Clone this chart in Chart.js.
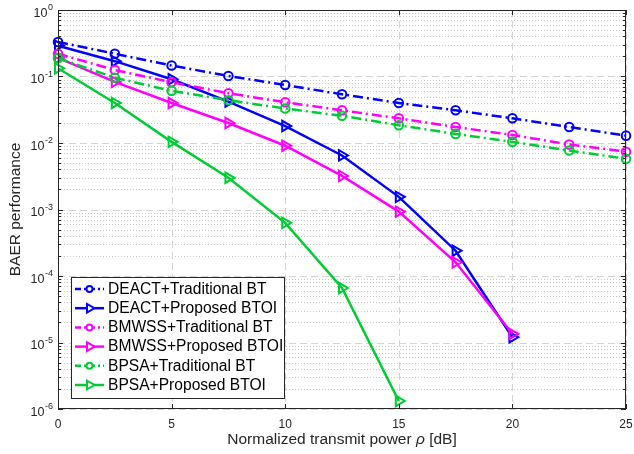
<!DOCTYPE html>
<html>
<head>
<meta charset="utf-8">
<script src="https://cdn.jsdelivr.net/npm/chart.js@4.4.0/dist/chart.umd.min.js"></script>
<style>
  body { margin: 0; background: #fff; }
  canvas { display: block; }
</style>
</head>
<body>
<canvas id="myChart" width="634" height="454"></canvas>
<script>
// transmit power steps (dB)
const powers = [0, 2.5, 5, 7.5, 10, 12.5, 15, 17.5, 20, 22.5, 25];

// BAER per scheme
const deactTraditional = [0.33, 0.22, 0.146, 0.102, 0.0745, 0.054, 0.040, 0.031, 0.0235, 0.0174, 0.0129];
const deactProposed    = [0.29, 0.17, 0.091, 0.042, 0.018, 0.0065, 0.00155, 0.00024, 0.000012];
const bmwssTraditional = [0.22, 0.125, 0.082, 0.056, 0.041, 0.031, 0.0235, 0.0174, 0.0132, 0.0095, 0.0074];
const bmwssProposed    = [0.19, 0.083, 0.040, 0.020, 0.0091, 0.0032, 0.00093, 0.000161, 0.0000135];
const bpsaTraditional  = [0.188, 0.096, 0.061, 0.044, 0.033, 0.0257, 0.0185, 0.0137, 0.0104, 0.0077, 0.0058];
const bpsaProposed     = [0.133, 0.040, 0.0104, 0.0030, 0.00063, 0.000066, 0.00000132];

const legendLabels = [
    'DEACT+Traditional BT',
    'DEACT+Proposed BTOI',
    'BMWSS+Traditional BT',
    'BMWSS+Proposed BTOI',
    'BPSA+Traditional BT',
    'BPSA+Proposed BTOI'
];
const xTicks = [0, 5, 10, 15, 20, 25];
const yTicks = [1e-6, 1e-5, 1e-4, 1e-3, 1e-2, 1e-1, 1];
const xTitle = 'Normalized transmit power ';
const yTitle = 'BAER performance';

const BLUE = '#0000ff', MAGENTA = '#ff00ff', GREEN = '#00cc33';
const INK = '#262626';
const FONT = '"Liberation Sans", Arial, Helvetica, sans-serif';
const DASHDOT = [10, 4, 2, 4];

function toPoints(values) {
    return values.map((v, i) => ({ x: powers[i], y: v }));
}

function series(label, values, color, traditional, idx) {
    return {
        label: label,
        data: toPoints(values),
        borderColor: color,
        backgroundColor: 'transparent',
        borderWidth: 2.5,
        borderDash: traditional ? DASHDOT : [],
        pointStyle: traditional ? 'circle' : 'triangle',
        pointRotation: traditional ? 0 : 90,
        pointRadius: traditional ? 4.3 : 6,
        pointBorderWidth: 2,
        pointBackgroundColor: 'transparent',
        pointBorderColor: color,
        tension: 0,
        clip: false,
        order: -idx
    };
}

const matlabAxes = {
    id: 'matlabAxes',
    beforeDatasetsDraw(chart) {
        const ctx = chart.ctx, a = chart.chartArea;
        const xs = chart.scales.x, ys = chart.scales.y;
        ctx.save();
        ctx.lineWidth = 1;
        // minor y grid (dotted)
        ctx.strokeStyle = '#c8c8c8';
        ctx.setLineDash([1, 2]);
        for (let e = -6; e < 0; e++) {
            for (let m = 2; m <= 9; m++) {
                const y = Math.round(ys.getPixelForValue(m * Math.pow(10, e))) + 0.5;
                ctx.beginPath(); ctx.moveTo(a.left, y); ctx.lineTo(a.right, y); ctx.stroke();
            }
        }
        // major grid (dashed)
        ctx.strokeStyle = '#d4d4d4';
        ctx.setLineDash([7, 4]);
        yTicks.forEach(v => {
            const y = Math.round(ys.getPixelForValue(v)) + 0.5;
            ctx.beginPath(); ctx.moveTo(a.left, y); ctx.lineTo(a.right, y); ctx.stroke();
        });
        xTicks.forEach(v => {
            const x = Math.round(xs.getPixelForValue(v)) + 0.5;
            ctx.beginPath(); ctx.moveTo(x, a.top); ctx.lineTo(x, a.bottom); ctx.stroke();
        });
        ctx.restore();
    },
    afterDatasetsDraw(chart) {
        const ctx = chart.ctx, a = chart.chartArea;
        const xs = chart.scales.x, ys = chart.scales.y;
        ctx.save();
        // box and inward ticks
        ctx.strokeStyle = INK;
        ctx.lineWidth = 1;
        ctx.setLineDash([]);
        ctx.strokeRect(a.left + 0.5, a.top + 0.5, a.right - a.left - 1, a.bottom - a.top - 1);
        ctx.beginPath();
        xTicks.forEach(v => {
            const x = Math.round(xs.getPixelForValue(v)) + 0.5;
            ctx.moveTo(x, a.bottom); ctx.lineTo(x, a.bottom - 5);
            ctx.moveTo(x, a.top); ctx.lineTo(x, a.top + 5);
        });
        yTicks.forEach(v => {
            const y = Math.round(ys.getPixelForValue(v)) + 0.5;
            ctx.moveTo(a.left, y); ctx.lineTo(a.left + 5, y);
            ctx.moveTo(a.right, y); ctx.lineTo(a.right - 5, y);
        });
        for (let e = -6; e < 0; e++) {
            for (let m = 2; m <= 9; m++) {
                const y = Math.round(ys.getPixelForValue(m * Math.pow(10, e))) + 0.5;
                ctx.moveTo(a.left, y); ctx.lineTo(a.left + 3, y);
                ctx.moveTo(a.right, y); ctx.lineTo(a.right - 3, y);
            }
        }
        ctx.stroke();

        // y tick labels as 10 with raised exponent
        ctx.fillStyle = INK;
        ctx.textBaseline = 'middle';
        ctx.textAlign = 'right';
        yTicks.forEach(v => {
            const y = ys.getPixelForValue(v);
            const exp = String(Math.round(Math.log10(v)));
            ctx.font = '9px ' + FONT;
            const ew = ctx.measureText(exp).width;
            ctx.fillText(exp, a.left - 5, y - 2);
            ctx.font = '12.5px ' + FONT;
            ctx.fillText('10', a.left - 5.5 - ew, y + 3.5);
        });

        // axis titles
        ctx.font = '15.5px ' + FONT;
        const rho = '\u03c1', tail = ' [dB]';
        const w1 = ctx.measureText(xTitle).width;
        ctx.font = 'italic 15.5px ' + FONT;
        const w2 = ctx.measureText(rho).width;
        ctx.font = '15.5px ' + FONT;
        const w3 = ctx.measureText(tail).width;
        let tx = (a.left + a.right) / 2 - (w1 + w2 + w3) / 2;
        const ty = 440;
        ctx.textAlign = 'left';
        ctx.fillText(xTitle, tx, ty);
        ctx.font = 'italic 15.5px ' + FONT;
        ctx.fillText(rho, tx + w1, ty);
        ctx.font = '15.5px ' + FONT;
        ctx.fillText(tail, tx + w1 + w2, ty);

        ctx.save();
        ctx.translate(16, (a.top + a.bottom) / 2);
        ctx.rotate(-Math.PI / 2);
        ctx.textAlign = 'center';
        ctx.fillText(yTitle, 0, 0);
        ctx.restore();

        // legend box, lower left inside the axes
        const lx = 71, ly = 277, lw = 213, lh = 121;
        ctx.fillStyle = '#fff';
        ctx.fillRect(lx, ly, lw, lh);
        ctx.strokeStyle = INK;
        ctx.lineWidth = 1;
        ctx.strokeRect(lx + 0.5, ly + 0.5, lw, lh);
        chart.data.datasets.forEach((ds, i) => {
            const cy = 289 + i * 19.2;
            ctx.strokeStyle = ds.borderColor;
            ctx.lineWidth = ds.borderWidth;
            ctx.setLineDash(ds.borderDash.length ? [6, 3, 2, 3] : []);
            ctx.beginPath(); ctx.moveTo(75, cy); ctx.lineTo(104, cy); ctx.stroke();
            ctx.setLineDash([]);
            ctx.lineWidth = 2;
            ctx.fillStyle = '#fff';
            Chart.helpers.drawPoint(ctx, {
                pointStyle: ds.pointStyle,
                rotation: ds.pointRotation,
                radius: ds.pointStyle === 'circle' ? 3 : 5,
                borderWidth: 2
            }, 89.5, cy);
            ctx.fillStyle = '#000';
            ctx.font = '15.6px ' + FONT;
            ctx.textAlign = 'left';
            ctx.fillText(ds.label, 108, cy + 0.5);
        });
        ctx.restore();
    }
};

const config = {
    type: 'line',
    data: {
        datasets: [
            series(legendLabels[0], deactTraditional, BLUE, true, 0),
            series(legendLabels[1], deactProposed, BLUE, false, 1),
            series(legendLabels[2], bmwssTraditional, MAGENTA, true, 2),
            series(legendLabels[3], bmwssProposed, MAGENTA, false, 3),
            series(legendLabels[4], bpsaTraditional, GREEN, true, 4),
            series(legendLabels[5], bpsaProposed, GREEN, false, 5)
        ]
    },
    options: {
        responsive: false,
        animation: false,
        layout: { padding: { left: 0, right: 7, top: 10, bottom: 0 } },
        plugins: {
            legend: { display: false },
            tooltip: { enabled: false }
        },
        scales: {
            x: {
                type: 'linear',
                min: 0,
                max: 25,
                afterBuildTicks: s => { s.ticks = xTicks.map(v => ({ value: v })); },
                afterFit: s => { s.height = 45; s.paddingLeft = 0; s.paddingRight = 0; },
                grid: { display: false, drawTicks: false },
                border: { display: false },
                ticks: {
                    padding: 8,
                    color: INK,
                    font: { family: FONT, size: 12 },
                    maxRotation: 0
                }
            },
            y: {
                type: 'logarithmic',
                min: 1e-6,
                max: 1,
                afterBuildTicks: s => { s.ticks = yTicks.map(v => ({ value: v })); },
                afterFit: s => { s.width = 58; s.paddingTop = 0; s.paddingBottom = 0; },
                grid: { display: false, drawTicks: false },
                border: { display: false },
                ticks: { display: false }
            }
        }
    },
    plugins: [matlabAxes]
};

let myChart = new Chart(document.getElementById('myChart'), config);
</script>
</body>
</html>
